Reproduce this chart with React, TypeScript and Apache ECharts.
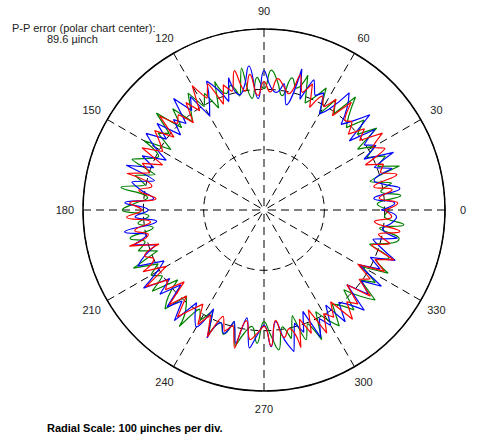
import React, { useEffect, useRef } from "react";
import * as echarts from "echarts";

const angleStep = 3;
const angleTicks = [0, 30, 60, 90, 120, 150, 180, 210, 240, 270, 300, 330];
const labelRadius = 330;

const redValues = [
  200, 222, 192, 215, 186, 228, 203, 212, 184, 225,
  208, 234, 196, 214, 188, 206, 200, 230, 193, 219,
  198, 212, 186, 224, 205, 232, 197, 208, 219, 196,
  213, 190, 226, 200, 236, 204, 218, 188, 229, 208,
  238, 196, 220, 186, 212, 203, 233, 192, 224, 206,
  194, 227, 184, 216, 199, 235, 190, 210, 180, 223,
  203, 228, 189, 217, 196, 231, 183, 212, 200, 225,
  187, 233, 197, 210, 178, 222, 192, 228, 204, 186,
  219, 195, 230, 189, 211, 198, 234, 186, 216, 204,
  193, 226, 184, 214, 201, 236, 190, 219, 181, 229,
  198, 212, 188, 233, 205, 220, 185, 227, 195, 210,
  180, 224, 201, 231, 187, 216, 194, 228, 184, 212,
];

const greenValues = [
  208, 188, 228, 196, 216, 182, 236, 202, 220, 191,
  212, 185, 231, 199, 223, 193, 210, 241, 197, 218,
  184, 227, 204, 190, 235, 209, 224, 192, 214, 232,
  201, 220, 186, 238, 193, 214, 203, 228, 185, 217,
  198, 231, 207, 188, 226, 193, 240, 202, 217, 184,
  229, 196, 210, 234, 190, 221, 202, 240, 194, 214,
  235, 191, 210, 186, 227, 204, 219, 189, 237, 197,
  216, 201, 229, 184, 213, 232, 192, 205, 239, 196,
  210, 187, 225, 200, 217, 191, 231, 206, 194, 221,
  185, 207, 233, 196, 218, 181, 226, 202, 235, 189,
  210, 229, 193, 204, 223, 187, 213, 237, 198, 220,
  189, 231, 204, 222, 184, 214, 229, 194, 233, 200,
];

const blueValues = [
  194, 217, 183, 228, 204, 189, 223, 196, 235, 186,
  214, 198, 227, 182, 236, 209, 191, 219, 240, 200,
  184, 218, 208, 231, 193, 242, 178, 212, 196, 205,
  231, 185, 240, 208, 195, 227, 189, 214, 234, 199,
  180, 224, 204, 238, 193, 212, 186, 228, 200, 233,
  209, 182, 221, 196, 240, 188, 224, 205, 184, 231,
  192, 214, 179, 234, 199, 223, 188, 212, 229, 186,
  205, 238, 193, 222, 185, 227, 203, 236, 190, 210,
  224, 184, 232, 200, 215, 191, 226, 181, 230, 207,
  191, 227, 186, 218, 240, 194, 213, 180, 231, 202,
  221, 188, 229, 197, 211, 235, 185, 222, 200, 232,
  182, 216, 193, 233, 205, 187, 226, 199, 212, 220,
];

const titleLine1 = "P-P error (polar chart center):";
const titleLine2 = "89.6 µinch";
const footer = "Radial Scale: 100 µinches per div.";

function toPolar(values: number[]) {
  const pts = values.map((r, i) => [r, i * angleStep]);
  pts.push([values[0], 360]);
  return pts;
}

export default function App() {
  const ref = useRef<HTMLDivElement>(null);
  useEffect(() => {
    if (!ref.current) return;
    const chart = echarts.init(ref.current, null, { renderer: "svg" });
    const font = "'Liberation Sans', Arial, sans-serif";
    const mk = (name: string, vals: number[], color: string) => ({
      name,
      type: "line",
      coordinateSystem: "polar",
      data: toPolar(vals),
      showSymbol: false,
      smooth: 0.5,
      lineStyle: { color, width: 1.2 },
      itemStyle: { color },
    });
    const staticTexts: any[] = [
      {
        type: "text",
        left: 12,
        top: 22,
        style: { text: titleLine1, fill: "#222", font: `11px ${font}` },
      },
      {
        type: "text",
        left: 47,
        top: 33,
        style: { text: titleLine2, fill: "#222", font: `11px ${font}` },
      },
      {
        type: "text",
        left: 47,
        top: 422,
        style: { text: footer, fill: "#000", font: `bold 11px ${font}` },
      },
    ];
    chart.setOption({
      animation: false,
      backgroundColor: "#fff",
      polar: { center: [264, 210], radius: 181 },
      angleAxis: {
        type: "value",
        min: 0,
        max: 360,
        interval: 30,
        startAngle: 0,
        clockwise: false,
        axisLine: { show: true, lineStyle: { color: "#000", width: 1.5 } },
        axisTick: { show: false },
        axisLabel: { show: false },
        splitLine: { show: true, lineStyle: { color: "#000", width: 1, type: [8, 5] } },
      },
      radiusAxis: {
        type: "value",
        min: 0,
        max: 300,
        interval: 100,
        axisLine: { show: false },
        axisTick: { show: false },
        axisLabel: { show: false },
        splitLine: { show: true, lineStyle: { color: "#000", width: 1, type: [8, 5] } },
      },
      series: [
        mk("green", greenValues, "#008000"),
        mk("blue", blueValues, "#0000ff"),
        mk("red", redValues, "#ff0000"),
      ],
      graphic: staticTexts,
    });
    const labelEls = angleTicks.map((a) => {
      const p = chart.convertToPixel({ polarIndex: 0 } as any, [labelRadius, a]) as number[];
      return {
        type: "text",
        x: p[0],
        y: p[1],
        style: {
          text: String(a),
          fill: "#222",
          font: `11px ${font}`,
          align: "center",
          verticalAlign: "middle",
        },
      };
    });
    chart.setOption({ graphic: staticTexts.concat(labelEls) });
    return () => chart.dispose();
  }, []);
  return (
    <div
      ref={ref}
      style={{ position: "fixed", left: 0, top: 0, width: 479, height: 440, background: "#fff" }}
    />
  );
}
